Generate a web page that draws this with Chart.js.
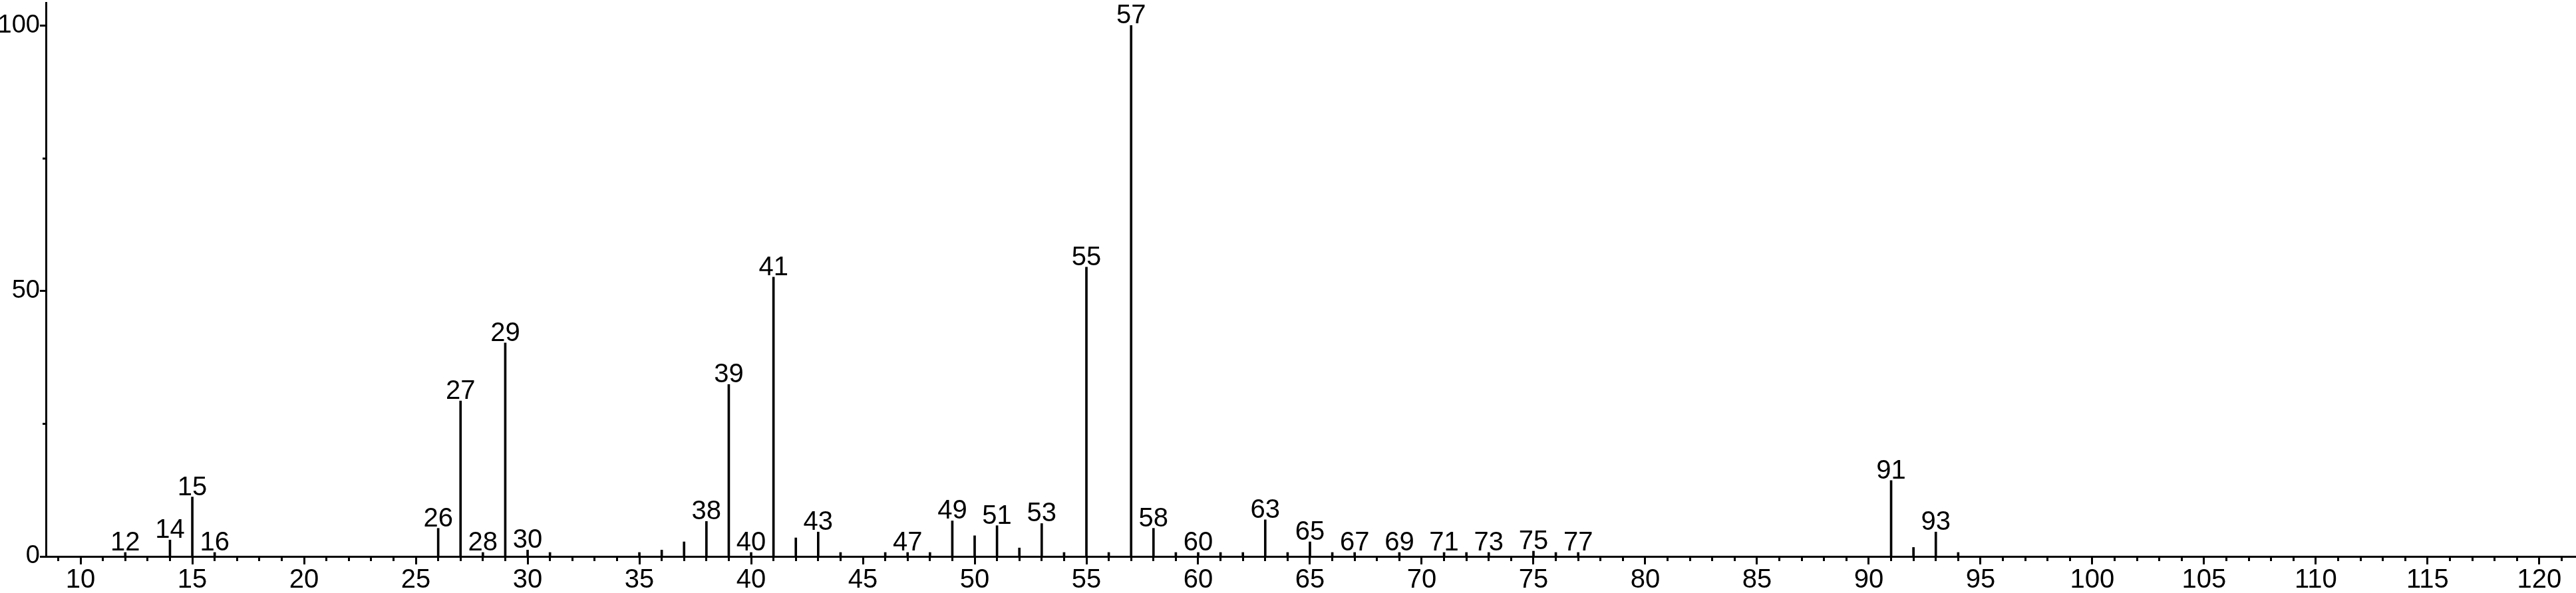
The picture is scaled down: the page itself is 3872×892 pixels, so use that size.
<!DOCTYPE html>
<html>
<head>
<meta charset="utf-8">
<title>Mass spectrum</title>
<script src="https://cdn.jsdelivr.net/npm/chart.js@4/dist/chart.umd.min.js"></script>
<style>
  body { margin: 0; background: #fff; }
  #wrap { width: 3872px; height: 892px; }
</style>
</head>
<body>
<div id="wrap"><canvas id="spectrum" width="3872" height="892"></canvas></div>
<script>
// m/z values of the peaks
var masses = [12, 14, 15, 16, 26, 27, 28, 29, 30, 31, 35, 36, 37, 38, 39, 40,
  41, 42, 43, 44, 46, 47, 48, 49, 50, 51, 52, 53, 54, 55, 56, 57, 58, 59, 60,
  61, 62, 63, 64, 65, 66, 67, 69, 71, 72, 73, 75, 76, 77, 91, 92, 93, 94];
// relative intensity (%)
var intensities = [0.75, 3.1, 11.2, 0.75, 5.3, 29.3, 0.75, 40.2, 1.2, 0.75, 0.75, 1.2,
  2.75, 6.6, 32.4, 0.75, 52.6, 3.5, 4.6, 0.75, 0.75, 0.75, 0.75, 6.7, 3.9, 5.8,
  1.6, 6.2, 0.75, 54.5, 0.75, 100, 5.3, 0.75, 0.75, 0.75, 0.75, 6.9, 0.75, 2.75,
  0.75, 0.75, 0.75, 0.75, 0.75, 0.75, 1.0, 0.75, 0.75, 14.3, 1.7, 4.6, 0.75];
// peaks that get their m/z written above them
var labeledMasses = [12, 14, 15, 16, 26, 27, 28, 29, 30, 38, 39, 40, 41, 43, 47,
  49, 51, 53, 55, 57, 58, 60, 63, 65, 67, 69, 71, 73, 75, 77, 91, 93];

var xRange = [8.45, 121.64];
var yRange = [0, 104.3];

var points = [];
for (var i = 0; i < masses.length; i++) {
  points.push({ x: masses[i], y: intensities[i] });
}

var fontFamily = "'Liberation Sans', Arial, sans-serif";
Chart.defaults.font.family = fontFamily;
Chart.defaults.font.size = 40;
Chart.defaults.color = '#000';

// m/z numbers above the peaks
var peakLabels = {
  id: 'peakLabels',
  afterDatasetsDraw: function(chart) {
    var ctx = chart.ctx;
    var meta = chart.getDatasetMeta(0);
    ctx.save();
    ctx.font = '40px ' + fontFamily;
    ctx.fillStyle = '#000';
    ctx.textAlign = 'center';
    ctx.textBaseline = 'alphabetic';
    meta.data.forEach(function(bar, i) {
      if (labeledMasses.indexOf(masses[i]) !== -1) {
        ctx.fillText(String(masses[i]), bar.x, bar.y - 3);
      }
    });
    ctx.restore();
  }
};

// keep the plot area exactly where the axes are in the picture
function noPad(scale) {
  scale.paddingTop = 0;
  scale.paddingBottom = 0;
  scale.paddingLeft = 0;
  scale.paddingRight = 0;
}

var ctx = document.getElementById('spectrum').getContext('2d');
var chart = new Chart(ctx, {
  type: 'bar',
  data: {
    datasets: [{
      data: points,
      backgroundColor: '#000',
      borderWidth: 0,
      barThickness: 3
    }]
  },
  options: {
    responsive: false,
    animation: false,
    layout: { padding: { top: 4, right: 0, left: 0, bottom: 0 } },
    plugins: {
      legend: { display: false },
      tooltip: { enabled: false }
    },
    scales: {
      x: {
        type: 'linear',
        position: 'bottom',
        weight: 1,
        min: xRange[0],
        max: xRange[1],
        offset: false,
        grid: { offset: false, drawOnChartArea: false, tickLength: 12, tickWidth: 3, tickColor: '#000' },
        border: { display: true, color: '#000', width: 3 },
        ticks: { stepSize: 5, includeBounds: false, maxRotation: 0, autoSkip: false, padding: 0 },
        afterFit: function(scale) { scale.height = 55; noPad(scale); }
      },
      // minor m/z ticks
      x2: {
        type: 'linear',
        position: 'bottom',
        weight: 0,
        min: xRange[0],
        max: xRange[1],
        offset: false,
        grid: { offset: false, drawOnChartArea: false, tickLength: 7, tickWidth: 3, tickColor: '#000' },
        border: { display: false },
        ticks: { stepSize: 1, includeBounds: false, autoSkip: false, display: false },
        afterFit: function(scale) { scale.height = 0; noPad(scale); }
      },
      y: {
        type: 'linear',
        position: 'left',
        weight: 1,
        min: yRange[0],
        max: yRange[1],
        grid: { drawOnChartArea: false, tickLength: 9, tickWidth: 3, tickColor: '#000' },
        border: { display: true, color: '#000', width: 3 },
        ticks: { stepSize: 50, includeBounds: false, padding: 0, font: { size: 38 } },
        afterFit: function(scale) { scale.width = 69; noPad(scale); }
      },
      y2: {
        type: 'linear',
        position: 'left',
        weight: 0,
        min: yRange[0],
        max: yRange[1],
        grid: { drawOnChartArea: false, tickLength: 5, tickWidth: 3, tickColor: '#000' },
        border: { display: false },
        ticks: { stepSize: 25, includeBounds: false, display: false },
        afterFit: function(scale) { scale.width = 0; noPad(scale); }
      }
    }
  },
  plugins: [peakLabels]
});
</script>
</body>
</html>
